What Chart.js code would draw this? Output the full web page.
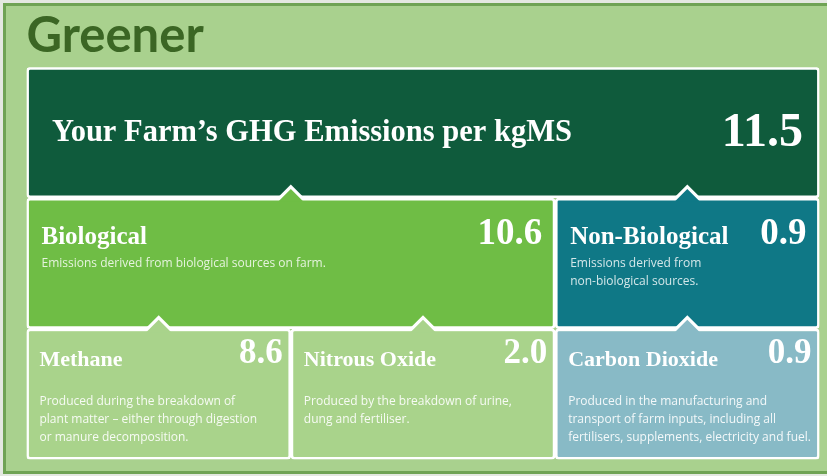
<!DOCTYPE html>
<html>
<head>
<meta charset="utf-8">
<script src="https://cdn.jsdelivr.net/npm/chart.js@4"></script>
<style>
  body { margin: 0; background: #e4e8e1; }
  canvas { display: block; }
</style>
</head>
<body>
<canvas id="chart" width="827" height="476"></canvas>
<script>
// emissions tree: each node points at its parent (null = total)
const parents = [null, 0, 0, 1, 1, 2];
const names = [
  "Your Farm’s GHG Emissions per kgMS",
  "Biological",
  "Non-Biological",
  "Methane",
  "Nitrous Oxide",
  "Carbon Dioxide",
];
const values = [11.5, 10.6, 0.9, 8.6, 2.0, 0.9];
const notes = [
  [],
  ["Emissions derived from biological sources on farm."],
  ["Emissions derived from", "non-biological sources."],
  ["Produced during the breakdown of", "plant matter – either through digestion", "or manure decomposition."],
  ["Produced by the breakdown of urine,", "dung and fertiliser."],
  ["Produced in the manufacturing and", "transport of farm inputs, including all", "fertilisers, supplements, electricity and fuel."],
];
const rows = ["Total", "Source", "Gas"];
const colors = ["#0f5b3c", "#6fbd45", "#0f7886", "#a9d38b", "#a9d38b", "#88bac6"];

const kids = (i) => parents.map((p, j) => (p === i ? j : -1)).filter((j) => j >= 0);
const leaves = parents.map((p, i) => i).filter((i) => kids(i).length === 0);
const depth = (i) => (parents[i] === null ? 0 : depth(parents[i]) + 1);
function span(i) {
  const k = kids(i);
  if (!k.length) {
    const n = leaves.indexOf(i);
    return [n, n + 1];
  }
  const s = k.map(span);
  return [Math.min(...s.map((a) => a[0])), Math.max(...s.map((a) => a[1]))];
}

// text placement per tree level (offsets from box edges)
const look = [
  { head: 'bold 30.5px "Liberation Serif"', num: 'bold 48px "Liberation Serif"', hx: 25.5, hy: 74, nr: 16.5, ny: 79, dy: 0, desc: "rgba(255,255,255,0.85)" },
  { head: 'bold 25px "Liberation Serif"', num: 'bold 37px "Liberation Serif"', hx: 15, hy: 46, nr: 13, ny: 46, dy: 69, desc: "rgba(255,255,255,0.82)" },
  { head: 'bold 22px "Liberation Serif"', num: 'bold 35px "Liberation Serif"', hx: 13, hy: 37, nr: 8, ny: 34, dy: 76, desc: "rgba(255,255,255,0.9)" },
];

function box(c, i) {
  const el = c.getDatasetMeta(i).data[depth(i)];
  const p = el.getProps(["x", "y", "base", "height"], true);
  return {
    l: Math.min(p.x, p.base),
    r: Math.max(p.x, p.base),
    t: p.y - p.height / 2,
    b: p.y + p.height / 2,
  };
}

const frame = {
  id: "frame",
  beforeDraw(c) {
    const ctx = c.ctx;
    ctx.save();
    ctx.fillStyle = "#e4e8e1";
    ctx.fillRect(0, 0, c.width, c.height);
    ctx.fillStyle = "#6fa354";
    ctx.fillRect(3, 3, c.width - 3, 471);
    ctx.fillStyle = "#a9d18e";
    ctx.fillRect(6, 6, c.width - 6, 465);
    ctx.restore();
  },
};

const labels = {
  id: "labels",
  afterDatasetsDraw(c) {
    const ctx = c.ctx;
    ctx.save();
    // notches pointing up into the parent box
    names.forEach((n, i) => {
      if (parents[i] === null) return;
      const b = box(c, i);
      const cx = (b.l + b.r) / 2;
      ctx.fillStyle = "#ffffff";
      ctx.beginPath();
      ctx.moveTo(cx - 15.5, b.t + 2);
      ctx.lineTo(cx, b.t - 13.5);
      ctx.lineTo(cx + 15.5, b.t + 2);
      ctx.closePath();
      ctx.fill();
      ctx.fillStyle = colors[i];
      ctx.beginPath();
      ctx.moveTo(cx - 12.5, b.t + 3.5);
      ctx.lineTo(cx, b.t - 9);
      ctx.lineTo(cx + 12.5, b.t + 3.5);
      ctx.closePath();
      ctx.fill();
    });
    // headings, values and notes
    names.forEach((n, i) => {
      const b = box(c, i);
      const s = look[depth(i)];
      ctx.fillStyle = "#ffffff";
      ctx.textBaseline = "alphabetic";
      ctx.textAlign = "left";
      ctx.font = s.head;
      ctx.fillText(n, b.l + s.hx, b.t + s.hy);
      ctx.textAlign = "right";
      ctx.font = s.num;
      ctx.fillText(values[i].toFixed(1), b.r - s.nr, b.t + s.ny);
      ctx.textAlign = "left";
      ctx.font = '12px "Open Sans"';
      ctx.fillStyle = s.desc;
      notes[i].forEach((line, k) => {
        ctx.fillText(line, b.l + s.hx, b.t + s.dy + k * 18);
      });
    });
    ctx.restore();
  },
};

new Chart(document.getElementById("chart"), {
  type: "bar",
  data: {
    labels: rows,
    datasets: names.map((n, i) => ({
      label: n,
      data: rows.map((r, k) => (k === depth(i) ? span(i) : null)),
      backgroundColor: colors[i],
      borderColor: "#ffffff",
      borderWidth: 2.75,
      borderRadius: 4,
      borderSkipped: false,
      grouped: false,
      categoryPercentage: 1,
      barPercentage: 1,
    })),
  },
  options: {
    indexAxis: "y",
    responsive: false,
    animation: false,
    events: [],
    layout: { padding: { top: 4, left: 26.5, right: 7.5, bottom: 16.5 } },
    scales: {
      x: { type: "linear", min: 0, max: leaves.length, display: false },
      y: { display: false },
    },
    plugins: {
      legend: { display: false },
      tooltip: { enabled: false },
      title: {
        display: true,
        text: "Greener",
        align: "start",
        color: "#3b6624",
        font: { family: "Lato", size: 49, weight: "bold" },
        padding: { top: 2.5, bottom: 2 },
      },
    },
  },
  plugins: [frame, labels],
});
</script>
</body>
</html>
